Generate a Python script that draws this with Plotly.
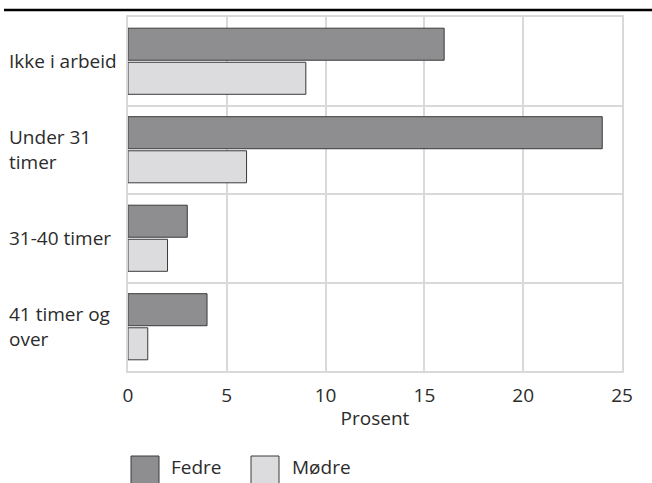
import plotly.graph_objects as go

categories = ["Ikke i arbeid", "Under 31<br>timer", "31-40 timer", "41 timer og<br>over"]
fedre = [16, 24, 3, 4]
modre = [9, 6, 2, 1]
series_names = ["Fedre", "Mødre"]
x_ticks = [0, 5, 10, 15, 20, 25]
x_title = "Prosent"

FONT = "Open Sans, Noto Sans, sans-serif"
FS = 19
TXT = "#2b2b2b"
C_F = "#8e8e91"
C_M = "#dcdcde"
EDGE = "#3a3a3a"
GRID = "#d9d9d9"

fig = go.Figure()
fig.add_trace(go.Bar(y=categories, x=fedre, orientation="h", name=series_names[0],
                     marker=dict(color=C_F, line=dict(color=EDGE, width=1)), showlegend=False))
fig.add_trace(go.Bar(y=categories, x=modre, orientation="h", name=series_names[1],
                     marker=dict(color=C_M, line=dict(color=EDGE, width=1)), showlegend=False))

W, H = 652, 483
L, R, T, B = 128, 30, 17, 112
pw, ph = W - L - R, H - T - B

def px_x(p):
    return (p - L) / pw

def px_y(p):
    return (H - B - p) / ph

fig.update_layout(
    width=W, height=H,
    margin=dict(l=L, r=R, t=T, b=B),
    paper_bgcolor="white", plot_bgcolor="white",
    barmode="group", bargap=0.23, bargroupgap=0.06,
    font=dict(family=FONT, size=FS, color=TXT),
)
fig.update_xaxes(range=[0, 25], tickvals=x_ticks, showgrid=True, gridcolor=GRID, gridwidth=2,
                 zeroline=False, showline=True, linecolor=GRID, linewidth=2, mirror=True,
                 ticks="", tickfont=dict(size=FS, color=TXT), ticklabelstandoff=6,
                 title=dict(text=x_title, font=dict(size=FS, color=TXT), standoff=5))
fig.update_yaxes(autorange="reversed", showticklabels=False, showgrid=True, gridcolor=GRID,
                 gridwidth=2, tickson="boundaries", ticks="", showline=True, linecolor=GRID,
                 linewidth=2, mirror=True, zeroline=False)

for c in categories:
    fig.add_annotation(x=px_x(7), xref="paper", y=c, yref="y", text=c, showarrow=False,
                       xanchor="left", align="left", font=dict(size=FS, color=TXT))

# top rule
fig.add_shape(type="line", xref="paper", yref="paper", x0=px_x(4), x1=px_x(652),
              y0=px_y(10), y1=px_y(10), line=dict(color="black", width=2.5))

# legend
for name, col, bx, tx in [(series_names[0], C_F, 131, 169), (series_names[1], C_M, 251, 290)]:
    fig.add_shape(type="rect", xref="paper", yref="paper", x0=px_x(bx), x1=px_x(bx + 28),
                  y0=px_y(456), y1=px_y(486), fillcolor=col, line=dict(color=EDGE, width=1))
    fig.add_annotation(x=px_x(tx), xref="paper", y=px_y(467), yref="paper", text=name,
                       showarrow=False, xanchor="left", yanchor="middle",
                       font=dict(size=FS, color=TXT))

fig.write_html("out.html", config={"displayModeBar": False},
               post_script="document.body.style.margin='0';")
